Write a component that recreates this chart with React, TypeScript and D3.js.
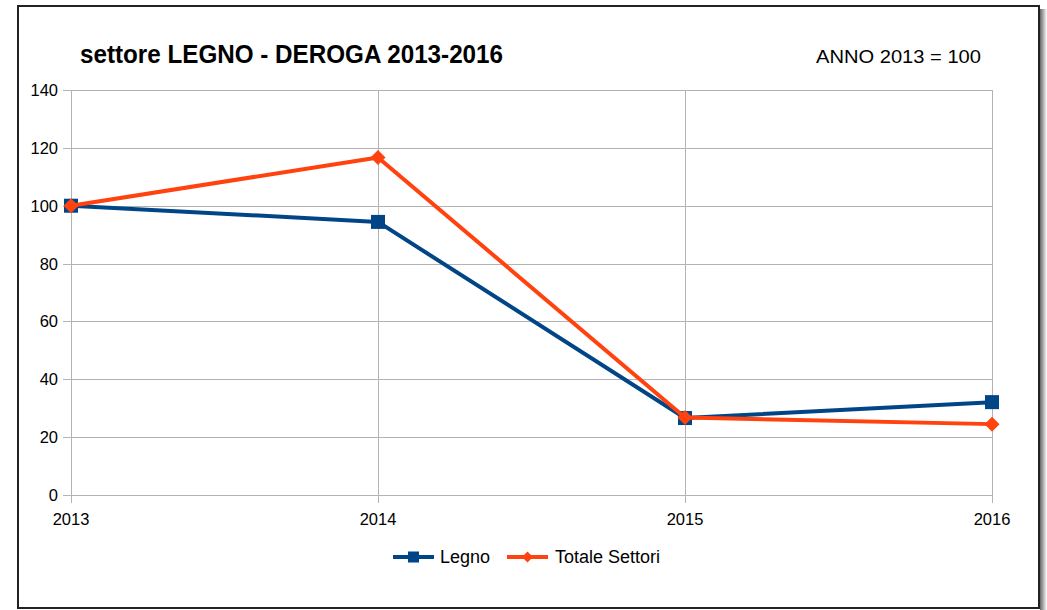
import * as React from 'react';
import * as d3 from 'd3';

const years = ['2013', '2014', '2015', '2016'];
const legno = [100, 94.4, 26.6, 32.1];
const totale = [100, 116.7, 26.8, 24.5];
const yTicks = [0, 20, 40, 60, 80, 100, 120, 140];

const W = 1047;
const H = 610;
const margin = { left: 71, right: 55, top: 90, bottom: 115 };
const BLUE = '#004586';
const ORANGE = '#ff420e';
const GRID = '#b3b3b3';
const FONT = 'Liberation Sans, Arial, sans-serif';

export default function App() {
    const x = d3.scalePoint<string>().domain(years).range([margin.left, W - margin.right]);
    const y = d3.scaleLinear().domain([0, 140]).range([H - margin.bottom, margin.top]);

    const line = d3.line<number>()
        .x((d, i) => x(years[i]) as number)
        .y((d) => y(d));

    const diamond = (cx: number, cy: number, r: number) =>
        `M${cx},${cy - r}L${cx + r},${cy}L${cx},${cy + r}L${cx - r},${cy}Z`;

    const legendY = 557;

    return (
        <svg width={W} height={H} style={{ position: 'absolute', left: 0, top: 0 }} fontFamily={FONT}>
            <defs>
                <linearGradient id="shadowR" x1="0" x2="1" y1="0" y2="0">
                    <stop offset="0" stopColor="#666" />
                    <stop offset="1" stopColor="#fff" />
                </linearGradient>
            </defs>
            <rect x={0} y={0} width={W} height={H} fill="#fff" />
            {/* frame shadow */}
            <rect x={1040} y={9} width={7} height={H - 9} fill="url(#shadowR)" />
            {/* frame */}
            <rect x={18} y={6} width={1021} height={602} fill="#fff" stroke="#222" strokeWidth={2} />

            {/* title */}
            <text x={80} y={63} fontSize={26} fontWeight="bold" fill="#000" textLength={423} lengthAdjust="spacingAndGlyphs">
                settore LEGNO - DEROGA 2013-2016
            </text>
            <text x={981} y={63} fontSize={18} textAnchor="end" fill="#000" textLength={165} lengthAdjust="spacingAndGlyphs">ANNO 2013 = 100</text>

            {/* horizontal grid */}
            {yTicks.map((t) => (
                <g key={'y' + t}>
                    <line x1={margin.left - 8} x2={W - margin.right} y1={Math.round(y(t)) + 0.5} y2={Math.round(y(t)) + 0.5} stroke={GRID} strokeWidth={1} />
                    <text x={margin.left - 13} y={y(t)} dy="0.36em" fontSize={16.5} textAnchor="end" fill="#000">{t}</text>
                </g>
            ))}
            {/* vertical grid */}
            {years.map((yr) => (
                <g key={'x' + yr}>
                    <line x1={Math.round(x(yr) as number) + 0.5} x2={Math.round(x(yr) as number) + 0.5} y1={margin.top} y2={H - margin.bottom + 8} stroke={GRID} strokeWidth={1} />
                    <text x={x(yr)} y={525} fontSize={16.5} textAnchor="middle" fill="#000">{yr}</text>
                </g>
            ))}

            {/* series */}
            <path d={line(legno) || ''} fill="none" stroke={BLUE} strokeWidth={4} strokeLinejoin="round" />
            {legno.map((v, i) => (
                <rect key={'l' + i} x={(x(years[i]) as number) - 7} y={y(v) - 7} width={14} height={14} fill={BLUE} />
            ))}
            <path d={line(totale) || ''} fill="none" stroke={ORANGE} strokeWidth={4} strokeLinejoin="round" />
            {totale.map((v, i) => (
                <path key={'t' + i} d={diamond(x(years[i]) as number, y(v), 7.5)} fill={ORANGE} />
            ))}

            {/* legend */}
            <line x1={393} x2={434} y1={legendY} y2={legendY} stroke={BLUE} strokeWidth={4} />
            <rect x={408} y={legendY - 5.5} width={11} height={11} fill={BLUE} />
            <text x={440} y={legendY} dy="0.36em" fontSize={18} fill="#000">Legno</text>
            <line x1={507} x2={548} y1={legendY} y2={legendY} stroke={ORANGE} strokeWidth={4} />
            <path d={diamond(527.5, legendY, 5.5)} fill={ORANGE} />
            <text x={555} y={legendY} dy="0.36em" fontSize={18} fill="#000">Totale Settori</text>
        </svg>
    );
}
